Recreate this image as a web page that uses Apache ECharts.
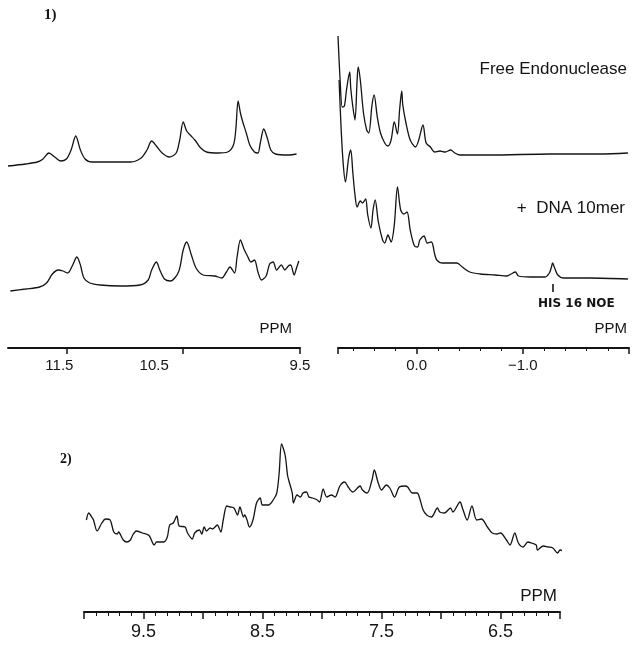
<!DOCTYPE html>
<html><head><meta charset="utf-8">
<script src="https://cdn.jsdelivr.net/npm/echarts@6/dist/echarts.min.js"></script>
<style>html,body{margin:0;padding:0;background:#fff}#c{width:633px;height:646px}</style>
</head><body><div id="c"></div><script>
// ---- Panel 1, low-field region (ppm 12.0 - 9.5) ----
const freeLowPpm = [12.00,11.85,11.75,11.70,11.65,11.60,11.55,11.50,11.46,11.42,
  11.38,11.34,11.28,11.10,10.95,10.86,10.81,10.77,10.73,10.68,
  10.62,10.56,10.53,10.50,10.47,10.44,10.40,10.35,10.30,10.20,
  10.12,10.07,10.05,10.03,10.01,9.99,9.96,9.93,9.89,9.86,
  9.84,9.81,9.78,9.75,9.71,9.60,9.53];
const freeLowInt = [-1,1,3,6,12,8,4,6,15,29,
  15,6,3,3,3,7,15,24,19,12,
  8,12,25,43,34,30,25,17,13,12,
  13,20,35,64,52,43,32,20,13,12,
  22,36,27,15,11,10,11];
const dnaLowPpm = [11.98,11.85,11.73,11.67,11.62,11.57,11.53,11.49,11.45,11.41,
  11.38,11.35,11.30,11.21,11.04,10.87,10.80,10.77,10.73,10.70,
  10.66,10.61,10.54,10.50,10.47,10.43,10.39,10.33,10.23,10.17,
  10.13,10.10,10.06,10.04,10.01,9.98,9.95,9.92,9.89,9.86,
  9.83,9.79,9.76,9.73,9.70,9.66,9.63,9.60,9.58,9.55,
  9.53,9.51];
const dnaLowInt = [0,2,4,8,17,21,20,18,25,34,
  26,13,8,6,5,6,11,21,29,21,
  12,10,19,41,49,36,23,16,15,13,
  19,24,18,33,51,42,35,29,31,19,
  11,15,27,29,21,26,21,25,26,16,
  23,30];
// ---- Panel 1, high-field region (ppm 0.74 - -2.0) ----
const freeHighPpm = [0.74,0.72,0.70,0.68,0.66,0.63,0.62,0.60,0.58,0.56,
  0.55,0.53,0.50,0.47,0.45,0.42,0.40,0.37,0.34,0.30,
  0.27,0.24,0.21,0.18,0.16,0.14,0.13,0.10,0.06,0.01,
  -0.02,-0.06,-0.09,-0.13,-0.17,-0.22,-0.27,-0.32,-0.36,-0.41,
  -0.69,-1.26,-1.73,-1.99];
const freeHighInt = [119,75,48,49,65,83,67,48,35,75,
  88,75,42,25,22,50,60,38,22,12,
  9,15,33,21,45,64,50,32,15,8,
  15,30,12,8,3,4,3,5,2,0,
  0,1,1,2];
const dnaHighPpm = [0.73,0.71,0.69,0.67,0.64,0.62,0.60,0.58,0.56,0.53,
  0.51,0.48,0.46,0.43,0.41,0.39,0.36,0.32,0.30,0.27,
  0.24,0.21,0.18,0.15,0.12,0.09,0.06,0.02,-0.01,-0.03,
  -0.07,-0.10,-0.14,-0.17,-0.19,-0.24,-0.32,-0.38,-0.43,-0.50,
  -0.60,-0.74,-0.85,-0.89,-0.93,-0.96,-1.07,-1.21,-1.25,-1.27,
  -1.28,-1.30,-1.33,-1.38,-1.63,-1.99];
const dnaHighInt = [199,149,114,97,121,129,106,84,72,78,
  76,80,64,51,69,79,57,39,36,44,
  37,54,92,69,65,67,49,33,32,39,
  43,36,37,25,19,16,16,16,12,7,
  5,4,3,5,7,3,2,2,6,12,
  16,11,4,1,1,0];
const noePpm = [-1.28];
// ---- Panel 2, aromatic region (ppm 10.0 - 6.0) ----
const aroPpm = [9.98,9.96,9.93,9.92,9.89,9.85,9.82,9.78,9.75,9.72,
  9.71,9.67,9.64,9.61,9.59,9.56,9.51,9.48,9.45,9.41,
  9.39,9.36,9.33,9.30,9.28,9.25,9.22,9.20,9.15,9.13,
  9.09,9.07,9.03,9.01,8.99,8.97,8.94,8.92,8.88,8.85,
  8.83,8.80,8.77,8.74,8.71,8.69,8.66,8.65,8.63,8.61,
  8.58,8.55,8.52,8.50,8.45,8.41,8.38,8.36,8.34,8.31,
  8.29,8.28,8.25,8.24,8.21,8.18,8.16,8.13,8.11,8.08,
  8.04,8.02,7.99,7.96,7.92,7.89,7.85,7.81,7.78,7.74,
  7.68,7.66,7.62,7.58,7.56,7.53,7.50,7.46,7.43,7.39,
  7.35,7.30,7.28,7.24,7.20,7.18,7.15,7.12,7.08,7.03,
  7.01,6.97,6.92,6.90,6.84,6.82,6.78,6.74,6.70,6.66,
  6.61,6.57,6.53,6.50,6.45,6.42,6.38,6.35,6.31,6.27,
  6.24,6.20,6.19,6.14,6.10,6.06,6.02,6.00,5.97];
const aroInt = [40,47,42,40,29,37,41,40,28,26,
  28,20,18,20,25,29,27,26,24,15,
  18,18,18,23,35,37,44,34,33,27,
  21,27,30,26,33,29,32,31,35,28,
  40,54,53,52,45,53,43,45,40,33,
  40,57,62,55,55,60,67,87,116,105,
  85,80,67,57,65,63,67,68,63,62,
  60,58,71,63,65,63,74,78,73,68,
  74,70,67,80,90,78,70,75,72,63,
  73,74,73,67,67,62,50,45,43,52,
  48,47,52,48,58,52,40,54,40,41,
  33,27,26,27,20,15,27,17,13,18,
  17,15,10,14,13,12,7,10,9];
// tick labels
const lowTicks = [11.5, 10.5, 9.5];
const highTicks = [0, -1];
const aroLabelTicks = [9.5, 8.5, 7.5, 6.5];

// vertical stacking offsets (layout)
const OFF = {freeLow:183, dnaLow:57, freeHigh:193, dnaHigh:69, aro:52};
const pairs = (p, v, off) => p.map((x, i) => [x, v[i] + off]);

const INK = '#141414';
const FONT = '"Liberation Sans", Arial, sans-serif';
const lineStyle = {color: INK, width: 1.3};
const axisBase = {
  type: 'value', inverse: true, splitLine: {show: false},
  axisLine: {onZero: false, lineStyle: {color: INK, width: 2}},
  nameTextStyle: {fontFamily: FONT, fontSize: 15, color: INK, align: 'right', verticalAlign: 'bottom', padding: [0, 0, 12, 0]}
};
const fmt1 = v => (v < 0 ? '\u2212' : '') + Math.abs(v).toFixed(1);

const chart = echarts.init(document.getElementById('c'), null, {renderer: 'canvas'});
chart.setOption({
  backgroundColor: '#fff',
  animation: false,
  grid: [
    {left: 8, right: 333, top: 22, bottom: 298},
    {left: 338, right: 4, top: 22, bottom: 298},
    {left: 84, right: 73, top: 392, bottom: 34}
  ],
  xAxis: [
    Object.assign({}, axisBase, {
      gridIndex: 0, min: 9.5, max: 12,
      name: 'PPM', nameLocation: 'start', nameGap: -8,
      axisTick: {customValues: lowTicks, length: 6, lineStyle: {color: INK, width: 1.5}},
      axisLabel: {customValues: lowTicks, margin: 10, color: INK, fontFamily: FONT, fontSize: 15,
        formatter: v => v === 10.5 ? '{s|' + v.toFixed(1) + '}' : (v === 11.5 ? '{t|' + v.toFixed(1) + '}' : v.toFixed(1)),
        rich: {s: {fontFamily: FONT, fontSize: 15, color: INK, padding: [0, 58, 0, 0]},
               t: {fontFamily: FONT, fontSize: 15, color: INK, padding: [0, 14, 0, 0]}}}
    }),
    Object.assign({}, axisBase, {
      gridIndex: 1, min: -2, max: 0.74, interval: 1,
      name: 'PPM', nameLocation: 'start', nameGap: -2,
      axisTick: {length: 6, lineStyle: {color: INK, width: 1.5}},
      minorTick: {show: true, splitNumber: 5, length: 3, lineStyle: {color: INK, width: 1}},
      axisLabel: {margin: 10, color: INK, fontFamily: FONT, fontSize: 15, showMinLabel: true, showMaxLabel: true,
        formatter: v => highTicks.indexOf(v) >= 0 ? fmt1(v) : ''}
    }),
    Object.assign({}, axisBase, {
      gridIndex: 2, min: 6, max: 10, interval: 0.5,
      name: 'PPM', nameLocation: 'start', nameGap: -3,
      nameTextStyle: {fontFamily: FONT, fontSize: 17, color: INK, align: 'right', verticalAlign: 'bottom', padding: [0, 0, 7, 0]},
      axisTick: {length: 7, lineStyle: {color: INK, width: 1.5}},
      minorTick: {show: true, splitNumber: 5, length: 4, lineStyle: {color: INK, width: 1}},
      axisLabel: {margin: 11, color: INK, fontFamily: FONT, fontSize: 18, showMinLabel: true, showMaxLabel: true,
        formatter: v => aroLabelTicks.some(t => Math.abs(t - v) < 1e-6) ? v.toFixed(1) : ''}
    })
  ],
  yAxis: [
    {type: 'value', gridIndex: 0, min: 0, max: 326, show: false},
    {type: 'value', gridIndex: 1, min: 0, max: 326, show: false},
    {type: 'value', gridIndex: 2, min: 0, max: 220, show: false}
  ],
  series: [
    {type: 'line', name: 'Free Endonuclease (low field)', xAxisIndex: 0, yAxisIndex: 0, showSymbol: false, symbol: 'none', smooth: 0.3, clip: false, lineStyle, data: pairs(freeLowPpm, freeLowInt, OFF.freeLow)},
    {type: 'line', name: '+ DNA 10mer (low field)', xAxisIndex: 0, yAxisIndex: 0, showSymbol: false, symbol: 'none', smooth: 0.3, clip: false, lineStyle, data: pairs(dnaLowPpm, dnaLowInt, OFF.dnaLow)},
    {type: 'line', name: 'Free Endonuclease (high field)', xAxisIndex: 1, yAxisIndex: 1, showSymbol: false, symbol: 'none', smooth: 0.3, clip: false, lineStyle, data: pairs(freeHighPpm, freeHighInt, OFF.freeHigh)},
    {type: 'line', name: '+ DNA 10mer (high field)', xAxisIndex: 1, yAxisIndex: 1, showSymbol: false, symbol: 'none', smooth: 0.3, clip: false, lineStyle, data: pairs(dnaHighPpm, dnaHighInt, OFF.dnaHigh),
      markLine: {silent: true, symbol: ['none', 'none'], label: {show: false}, lineStyle: {color: INK, width: 1.6, type: 'solid'},
        data: [[{coord: [noePpm[0], OFF.dnaHigh - 5]}, {coord: [noePpm[0], OFF.dnaHigh - 13]}]]}},
    {type: 'line', name: 'Aromatic region', xAxisIndex: 2, yAxisIndex: 2, showSymbol: false, symbol: 'none', smooth: 0.3, clip: false, lineStyle, data: pairs(aroPpm, aroInt, OFF.aro)}
  ],
  graphic: [
    {type: 'text', left: 44, top: 8, style: {text: '1)', font: 'bold 15px "Liberation Serif", serif', fill: INK}},
    {type: 'text', right: 6, top: 61, style: {text: 'Free Endonuclease', font: '17px ' + FONT, fill: INK}},
    {type: 'text', right: 8, top: 200, style: {text: '+  DNA 10mer', font: '17px ' + FONT, fill: INK}},
    {type: 'text', left: 538, top: 298, style: {text: 'HIS 16 NOE', font: 'bold 12px "DejaVu Sans", sans-serif', fill: INK}},
    {type: 'text', left: 60, top: 452, style: {text: '2)', font: 'bold 14px "Liberation Serif", serif', fill: INK}}
  ]
});
</script></body></html>
